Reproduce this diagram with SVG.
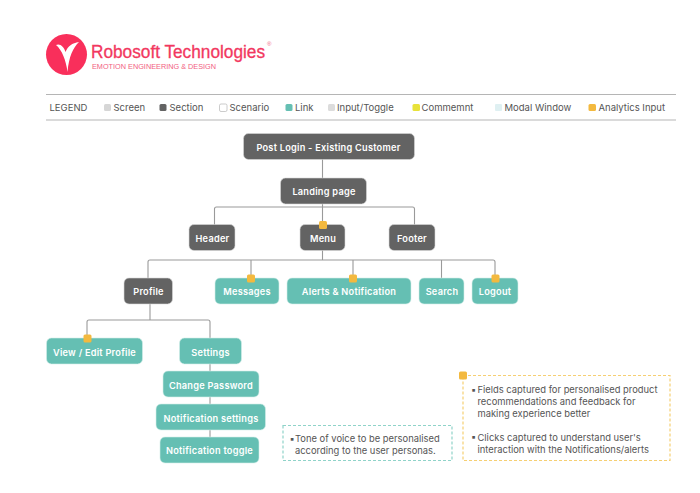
<svg xmlns="http://www.w3.org/2000/svg" width="700" height="493" viewBox="0 0 700 493">
<style>
text{font-family:"Inter","Liberation Sans",sans-serif}
.n{font-size:9.2px;font-weight:600;fill:#fff;text-anchor:middle;letter-spacing:.25px}
.sec{fill:#636363;stroke:#d8d8d8;stroke-width:.6}
.lnk{fill:#65bfb3;stroke:#d5eeea;stroke-width:.6}
.tag{fill:#f3b93f}
.lg{font-size:9.5px;fill:#555}
.note{font-size:9.4px;fill:#555}
.c{fill:none;stroke:#9a9a9a;stroke-width:1.1}
.rule{stroke:#b5b5b5;stroke-width:1.2}
.logo{font-family:"Liberation Sans",sans-serif}
</style>
<rect width="700" height="493" fill="#fff"/>
<g id="logo">
<circle cx="66.500" cy="54.500" r="20.500" fill="#f92f5b"/>
<path d="M56 45C60 43 64 47 65.500 52C68 46 72 43 79 42C73 48 69 56 67.500 72C66 60 62 50 56 45Z" fill="#fff"/>
<text class="logo" x="91" y="58.300" font-size="17.500" fill="#f2385f" stroke="#f2385f" stroke-width=".3" textLength="174" lengthAdjust="spacingAndGlyphs">Robosoft Technologies</text>
<text class="logo" x="92" y="69" font-size="7.500" fill="#f2607f" textLength="124" lengthAdjust="spacingAndGlyphs">EMOTION ENGINEERING &amp; DESIGN</text>
<text class="logo" x="267" y="46" font-size="6" fill="#f2607f">®</text>
</g>
<g id="legend">
<line class="rule" x1="46" y1="94.500" x2="676" y2="94.500"/>
<line class="rule" x1="46" y1="120" x2="676" y2="120"/>
<text class="lg" x="49.500" y="111">LEGEND</text>
<rect x="104" y="104" width="7" height="7" rx="1.500" fill="#d6d6d6"/><text class="lg" x="113.500" y="111">Screen</text>
<rect x="159.500" y="104" width="7" height="7" rx="1.500" fill="#636363"/><text class="lg" x="169.500" y="111">Section</text>
<rect x="219.500" y="104" width="7.500" height="7.500" rx="1.500" fill="#fff" stroke="#aaa" stroke-width=".6"/><text class="lg" x="229.500" y="111">Scenario</text>
<rect x="285.500" y="104" width="7" height="7" rx="1.500" fill="#65bfb3"/><text class="lg" x="295" y="111">Link</text>
<rect x="328" y="104" width="7" height="7" rx="1.500" fill="#dcdcdc"/><text class="lg" x="337" y="111">Input/Toggle</text>
<rect x="412.500" y="104" width="7.500" height="7" rx="1.500" fill="#e8e23a"/><text class="lg" x="421.500" y="111">Commemnt</text>
<rect x="495" y="104" width="7" height="7" rx="1" fill="#dff0f2"/><text class="lg" x="504.500" y="111">Modal Window</text>
<rect x="588.500" y="104" width="7.500" height="7" rx="1.500" fill="#f3b93f"/><text class="lg" x="598.500" y="111">Analytics Input</text>
</g>
<g id="connectors">
<path class="c" d="M322.500 159V178M322.500 204V225M214.500 225V209Q214.500 207 216.500 207H412.500Q414.500 207 414.500 209V225"/>
<path class="c" d="M322.500 250V260M148 278V262Q148 260 150 260H493Q495 260 495 262V278M251 260V278M353 260V278M441.500 260V278"/>
<path class="c" d="M150 304V320M87 338V322Q87 320 89 320H208Q210 320 210 322V463"/>
</g>
<g id="post-login"><rect class="sec" x="243.500" y="133.500" width="171" height="26" rx="5"/><text class="n" x="328.500" y="150.500">Post Login - Existing Customer</text></g>
<g id="landing-page"><rect class="sec" x="280.500" y="178" width="86" height="26" rx="5"/><text class="n" x="324" y="195">Landing page</text></g>
<g id="header"><rect class="sec" x="189" y="224.500" width="46" height="26" rx="5"/><text class="n" x="212.500" y="241.500">Header</text></g>
<g id="menu"><rect class="sec" x="300" y="224.500" width="45" height="26" rx="5"/><text class="n" x="323" y="241.500">Menu</text><rect class="tag" x="319" y="221" width="8" height="8" rx="1.500"/></g>
<g id="footer"><rect class="sec" x="389" y="224.500" width="46" height="26" rx="5"/><text class="n" x="412" y="241.500">Footer</text></g>
<g id="profile"><rect class="sec" x="124" y="278" width="48.500" height="26" rx="5"/><text class="n" x="148.500" y="295">Profile</text></g>
<g id="messages"><rect class="lnk" x="215" y="278" width="64" height="26" rx="5"/><text class="n" x="247" y="295">Messages</text><rect class="tag" x="247" y="274.500" width="8" height="8" rx="1.500"/></g>
<g id="alerts"><rect class="lnk" x="287" y="278" width="124" height="26" rx="5"/><text class="n" x="349" y="295">Alerts &amp; Notification</text><rect class="tag" x="349" y="274.500" width="8" height="8" rx="1.500"/></g>
<g id="search"><rect class="lnk" x="419" y="278" width="45" height="26" rx="5"/><text class="n" x="442" y="295">Search</text></g>
<g id="logout"><rect class="lnk" x="472" y="278" width="46" height="26" rx="5"/><text class="n" x="495" y="295">Logout</text><rect class="tag" x="491.500" y="274.500" width="8" height="8" rx="1.500"/></g>
<g id="view-edit"><rect class="lnk" x="46.500" y="338" width="96" height="26" rx="5"/><text class="n" x="94.500" y="356">View / Edit Profile</text><rect class="tag" x="83.500" y="334.500" width="8" height="8" rx="1.500"/></g>
<g id="settings"><rect class="lnk" x="179.500" y="338" width="62" height="26" rx="5"/><text class="n" x="210.500" y="356">Settings</text></g>
<g id="change-password"><rect class="lnk" x="163" y="371" width="96" height="26" rx="5"/><text class="n" x="211" y="389">Change Password</text></g>
<g id="notification-settings"><rect class="lnk" x="156" y="404" width="109.500" height="26" rx="5"/><text class="n" x="211" y="422">Notification settings</text></g>
<g id="notification-toggle"><rect class="lnk" x="160" y="437" width="99" height="26" rx="5"/><text class="n" x="209.500" y="454">Notification toggle</text></g>
<g id="note-tone">
<rect x="283" y="425.500" width="169" height="35" fill="#fff" stroke="#8fd3c9" stroke-width="1.200" stroke-dasharray="3 2"/>
<text class="note" x="289.500" y="441.500">▪</text>
<text class="note" x="295" y="441.500">Tone of voice to be personalised</text>
<text class="note" x="295" y="454">according to the user personas.</text>
</g>
<g id="note-analytics">
<rect x="463" y="375.500" width="207" height="85" fill="#fff" stroke="#f6cf72" stroke-width="1.200" stroke-dasharray="3 2"/>
<rect class="tag" x="459" y="371.500" width="8" height="8" rx="1.500"/>
<text class="note" x="471" y="393">▪</text>
<text class="note" x="477.500" y="393">Fields captured for personalised product</text>
<text class="note" x="477.500" y="405">recommendations and feedback for</text>
<text class="note" x="477.500" y="417">making experience better</text>
<text class="note" x="471" y="440">▪</text>
<text class="note" x="477.500" y="441">Clicks captured to understand user's</text>
<text class="note" x="477.500" y="453">interaction with the Notifications/alerts</text>
</g>
</svg>
